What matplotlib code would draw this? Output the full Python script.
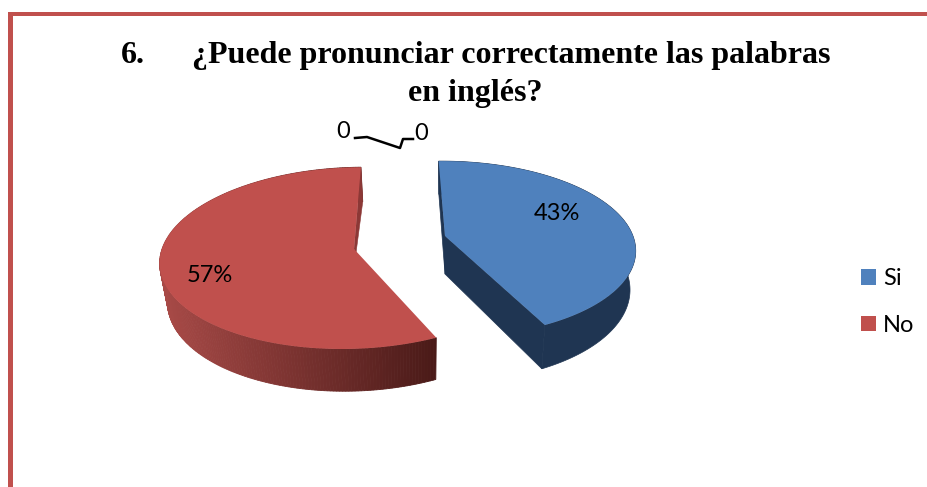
import numpy as np
import matplotlib
matplotlib.use("Agg")
import matplotlib.pyplot as plt
from matplotlib.patches import Patch

# data
categories = ['Si', 'No']
values = [43, 57]
zero_labels = ['0', '0']
title_num = '6.'
title_line1 = '¿Puede pronunciar correctamente las palabras'
title_line2 = 'en inglés?'

top_colors = ['#4F81BD', '#C0504D']
wall_blue = '#1F3552'
border = '#C0504D'


def proj(t, c, depth=0.0):
    # t is degrees clockwise from the back of the pie
    t = np.radians(t)
    X, Y = np.sin(t), np.cos(t)
    w = 1 + c['p'] * Y
    k = 0.97 if depth else 1.0
    x = c['cx'] + k * (c['R'] * X + c['sh'] * Y) / w + (c['shift'] if depth else 0)
    y = c['cy'] + (-c['S'] * Y + depth) / w
    return x, y


def wedge_top(a, b, c):
    ts = np.linspace(a, b, 120)
    x, y = proj(ts, c)
    return np.r_[c['cx'], x], np.r_[c['cy'], y]


fig = plt.figure(figsize=(9.28, 4.87), dpi=100)
ax = fig.add_axes([0, 0, 1, 1])
ax.set_xlim(0, 928)
ax.set_ylim(487, 0)
ax.axis('off')

# page frame
ax.fill([8, 13, 13, 8], [12, 12, 487, 487], color=border, lw=0)
ax.fill([8, 928, 928, 8], [12, 12, 16, 16], color=border, lw=0)

# title
ax.text(121, 63, title_num, family='Liberation Serif', weight='bold', fontsize=23, va='baseline', ha='left')
ax.text(192, 63, title_line1, family='Liberation Serif', weight='bold', fontsize=23, va='baseline', ha='left')
ax.text(475, 101, title_line2, family='Liberation Serif', weight='bold', fontsize=23, va='baseline', ha='center')

shares = np.array(values) / sum(values) * 360
start = -1.0
blue = dict(cx=445, cy=236, R=188, S=86, p=0.148, sh=-4, shift=0)
red = dict(cx=354, cy=249, R=192, S=90, p=0.1, sh=11, shift=2)
D = 38

# blue walls
a, b = start, start + shares[0]
ts = np.linspace(a, b, 120)
xt, yt = proj(ts, blue)
xb, yb = proj(ts, blue, D)
ax.fill(np.r_[xt, xb[::-1]], np.r_[yt, yb[::-1]], color=wall_blue, lw=0.5)
ax0, ay0 = blue['cx'], blue['cy']
ax1, ay1 = blue['cx'], blue['cy'] + D
ax.fill([xt[-1], ax0, ax1, xb[-1]], [yt[-1], ay0, ay1, yb[-1]], color=wall_blue, lw=0.5)
ax.fill([xt[0], ax0, ax1, xb[0]], [yt[0], ay0, ay1, yb[0]], color=wall_blue, lw=0.5)

# red wall, darker towards the right
c0 = np.array(matplotlib.colors.to_rgb('#A84A47'))
c1 = np.array(matplotlib.colors.to_rgb('#4A1A18'))
a2, b2 = b, b + shares[1]
ts = np.linspace(a2, b2, 240)
xt, yt = proj(ts, red)
xb, yb = proj(ts, red, D)
for i in range(len(ts) - 1):
    f = np.clip((xt[i] - 160) / (xt[0] - 160), 0, 1)
    col = c0 + (c1 - c0) * f
    ax.fill([xt[i], xt[i + 1], xb[i + 1], xb[i]], [yt[i], yt[i + 1], yb[i + 1], yb[i]], color=col, lw=0.6)
ax.fill([xt[-1], red['cx'], red['cx'] + 2, xb[-1]], [yt[-1], red['cy'], red['cy'] + 4, yb[-1]], color='#8C3836', lw=0.4)

# top faces
x, y = wedge_top(a, b, blue)
ax.fill(x, y, color=top_colors[0], lw=0)
x, y = wedge_top(a2, b2, red)
ax.fill(x, y, color=top_colors[1], lw=0)

# percent labels
ax.text(557, 213, f'{values[0]}%', family='Lato', fontsize=17, ha='center', va='center')
ax.text(210, 275, f'{values[1]}%', family='Lato', fontsize=17, ha='center', va='center')

# the two zero labels with their leader line
ax.text(343, 131, zero_labels[0], family='Lato', fontsize=17, ha='center', va='center')
ax.text(421, 133, zero_labels[1], family='Lato', fontsize=17, ha='center', va='center')
ax.plot([355, 367, 400, 403, 413], [138, 137, 148, 139, 139], color='black', lw=1.8)

handles = [Patch(facecolor=top_colors[i], label=categories[i]) for i in range(2)]
leg = ax.legend(handles=handles, loc='center left', bbox_to_anchor=(861 / 928, 1 - 302 / 487), frameon=False,
                prop={'family': 'Lato', 'size': 17}, handlelength=0.64, handleheight=0.64,
                handletextpad=0.3, labelspacing=1.1, borderpad=0, borderaxespad=0)

fig.savefig('out.png', dpi=100)
